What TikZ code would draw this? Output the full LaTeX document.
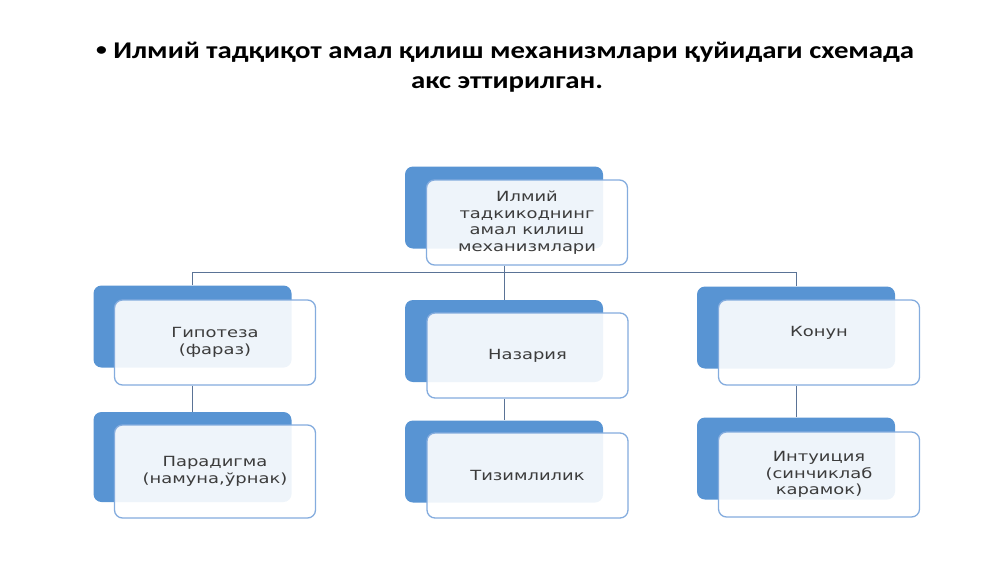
\documentclass[tikz,border=0pt]{standalone}
\usepackage{fontspec}
\setmainfont{DejaVu Sans}
\newfontfamily\headfont[FakeStretch=1.2]{Carlito}
\newfontfamily\cellfont[FakeStretch=1.28]{DejaVu Sans}
\usetikzlibrary{shapes, arrows}
\definecolor{backblue}{RGB}{88,148,211}
\definecolor{rimblue}{RGB}{132,172,222}
\definecolor{linkblue}{RGB}{90,115,150}
\definecolor{cellink}{RGB}{60,60,60}
\tikzstyle{bcell} = [rectangle, rounded corners=8pt, fill=backblue, minimum width=198pt, minimum height=82pt]
\tikzstyle{fcell} = [rectangle, rounded corners=8pt, draw=rimblue, line width=1.3pt, fill=white, fill opacity=0.9, text opacity=1, minimum width=201pt, minimum height=85pt, align=center, text=cellink, font=\cellfont\fontsize{14}{16.5}\selectfont]
\tikzstyle{head} = [anchor=base, font=\headfont\bfseries\fontsize{24}{30}\selectfont]
\tikzstyle{line} = [draw=linkblue, line width=0.8pt]

\begin{document}
\begin{tikzpicture}[x=1pt, y=-1pt]
    \useasboundingbox (0,0) rectangle (1000,562);

    \node[head](title) at (505,58) {\raisebox{2.5pt}{\fontsize{18}{18}\selectfont•} Илмий тадқиқот амал қилиш механизмлари қуйидаги схемада};
    \node[head](subtitle) at (507,88) {акс эттирилган.};

    \node[bcell](topb) at (504,207.5) {};
    \node[fcell](top) at (527,222.5) {Илмий\\тадкикоднинг\\амал килиш\\механизмлари};

    \node[bcell](hypb) at (192.5,326.5) {};
    \node[fcell](hyp) at (215,342.5) {Гипотеза\\(фараз)};
    \node[bcell, minimum height=90pt](parb) at (192.5,457) {};
    \node[fcell, minimum height=93pt](par) at (215,471.5) {Парадигма\\(намуна,ўрнак)};

    \node[bcell](midb) at (504,341) {};
    \node[fcell](mid) at (527.5,355.5) {Назария};
    \node[bcell](sysb) at (504,461.5) {};
    \node[fcell](sys) at (527.5,475.5) {Тизимлилик};

    \node[bcell](lawb) at (796,327.5) {};
    \node[fcell](law) at (819,342.5) {Конун\\\strut};
    \node[bcell](intb) at (796,458.5) {};
    \node[fcell](int) at (819,474.5) {Интуиция\\(синчиклаб\\карамок)};

    \coordinate (bus) at (0,272);
    \path[line] (top.south -| topb) -- (midb.north);
    \path[line] (hypb.north) -- (hypb |- bus) -- (lawb |- bus) -- (lawb.north);
    \path[line] (hyp.south -| hypb) -- (parb.north);
    \path[line] (mid.south -| midb) -- (sysb.north);
    \path[line] (law.south -| lawb) -- (intb.north);
\end{tikzpicture}
\end{document}
